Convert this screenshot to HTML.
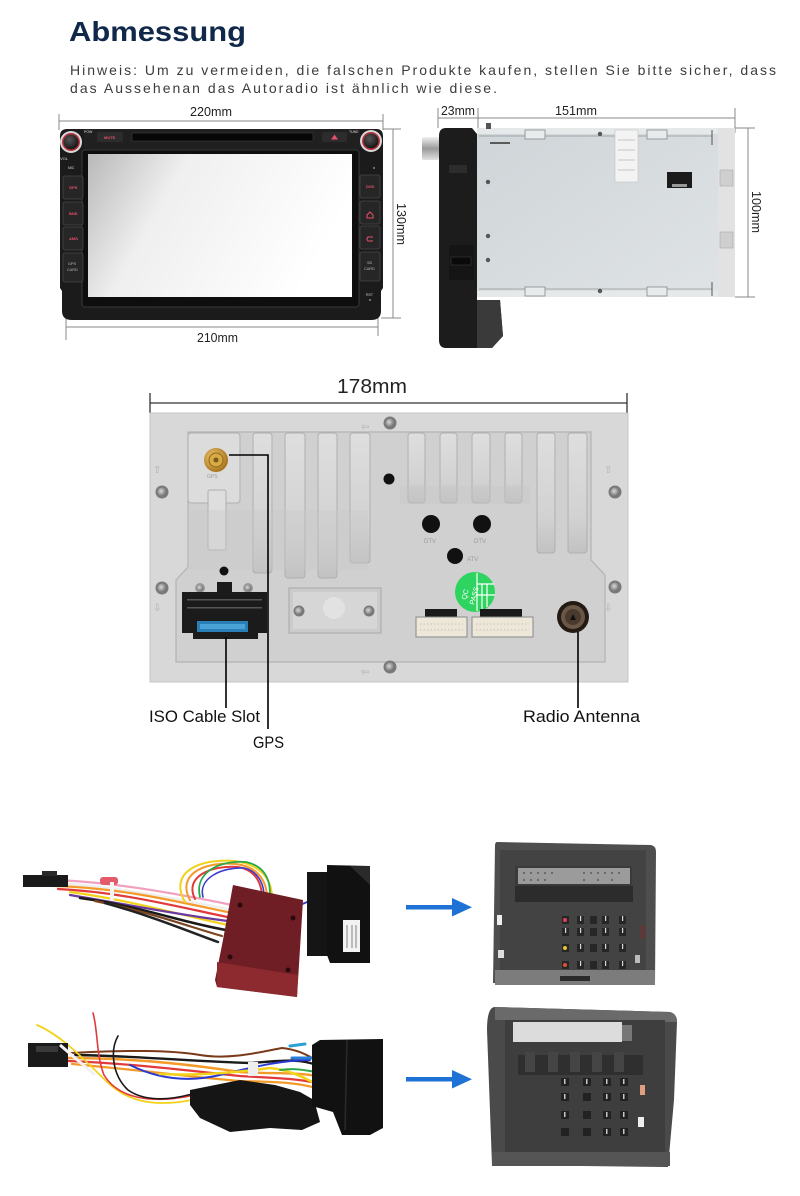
<!DOCTYPE html>
<html><head><meta charset="utf-8"><style>
html,body{margin:0;padding:0;background:#fff;}
svg{display:block;}
</style></head><body>
<svg width="800" height="1196" viewBox="0 0 800 1196" xmlns="http://www.w3.org/2000/svg" font-family="'Liberation Sans', sans-serif">
<defs>
<linearGradient id="scr" x1="0" y1="0" x2="1" y2="0.3">
<stop offset="0" stop-color="#b9b9b9"/><stop offset="0.35" stop-color="#efefef"/><stop offset="1" stop-color="#ffffff"/>
</linearGradient>
<radialGradient id="knob" cx="0.4" cy="0.35" r="0.7">
<stop offset="0" stop-color="#555"/><stop offset="1" stop-color="#111"/>
</radialGradient>
<radialGradient id="scr1" cx="0.4" cy="0.4" r="0.6">
<stop offset="0" stop-color="#d8d8d8"/><stop offset="1" stop-color="#6e6e6e"/>
</radialGradient>
<linearGradient id="slot" x1="0" y1="0" x2="0" y2="1">
<stop offset="0" stop-color="#dedede"/><stop offset="0.7" stop-color="#d2d2d2"/><stop offset="1" stop-color="#c2c2c2"/>
</linearGradient>
<linearGradient id="metal" x1="0" y1="0" x2="1" y2="1">
<stop offset="0" stop-color="#cfd5d8"/><stop offset="1" stop-color="#dfe3e5"/>
</linearGradient>
<linearGradient id="chrome" x1="0" y1="0" x2="0" y2="1">
<stop offset="0" stop-color="#f0f0f0"/><stop offset="0.5" stop-color="#9a9a9a"/><stop offset="1" stop-color="#e0e0e0"/>
</linearGradient>
<radialGradient id="gold" cx="0.4" cy="0.4" r="0.6">
<stop offset="0" stop-color="#f5d27a"/><stop offset="1" stop-color="#a8741c"/>
</radialGradient>
</defs>

<!-- Header -->
<text x="69" y="41" font-size="28" font-weight="bold" fill="#10284a" textLength="177" lengthAdjust="spacingAndGlyphs">Abmessung</text>
<text x="70" y="75" font-size="14" fill="#3c3c3c" textLength="706" lengthAdjust="spacing">Hinweis: Um zu vermeiden, die falschen Produkte kaufen, stellen Sie bitte sicher, dass</text>
<text x="70" y="93" font-size="14" fill="#3c3c3c" textLength="427" lengthAdjust="spacing">das Aussehenan das Autoradio ist ähnlich wie diese.</text>

<!-- ===== Front radio ===== -->
<g stroke="#888" stroke-width="1" fill="none">
<line x1="59" y1="121" x2="383" y2="121"/>
<line x1="59" y1="114" x2="59" y2="130"/>
<line x1="383" y1="114" x2="383" y2="130"/>
<line x1="393" y1="129" x2="393" y2="318"/>
<line x1="383" y1="129" x2="401" y2="129"/>
<line x1="381" y1="318" x2="401" y2="318"/>
<line x1="66" y1="327" x2="378" y2="327"/>
<line x1="66" y1="314" x2="66" y2="340"/>
<line x1="378" y1="314" x2="378" y2="336"/>
</g>
<text x="190" y="116" font-size="13" fill="#222" textLength="42" lengthAdjust="spacingAndGlyphs">220mm</text>
<text x="197" y="342" font-size="13" fill="#222" textLength="41" lengthAdjust="spacingAndGlyphs">210mm</text>
<text transform="translate(397,203) rotate(90)" font-size="13" fill="#222" textLength="42" lengthAdjust="spacingAndGlyphs">130mm</text>

<path d="M60,136 Q60,129 67,129 L376,129 Q383,129 383,136 L383,288 L381,291 L381,311 Q381,320 371,320 L72,320 Q62,320 62,311 L62,291 L60,288 Z" fill="#1b1b1b"/>
<rect x="84" y="129" width="276" height="20" fill="#202020"/>
<rect x="82" y="150" width="277" height="157" rx="3" fill="#0e0e0e" stroke="#383838" stroke-width="1"/>
<rect x="88" y="154" width="264" height="143" fill="url(#scr)"/>
<rect x="132" y="133" width="181" height="8" fill="#070707" stroke="#333" stroke-width="0.8"/>
<rect x="97" y="132" width="26" height="10" rx="2" fill="#2c2c2c"/>
<text x="104" y="139" font-size="4" fill="#e8506a" font-weight="bold">MUTE</text>
<rect x="322" y="132" width="25" height="10" rx="2" fill="#2c2c2c"/>
<polygon points="331,139.5 334.5,134.5 338,139.5" fill="#e8506a"/>
<text x="84" y="133" font-size="3.5" fill="#ddd">POW</text>
<text x="349" y="133" font-size="3.5" fill="#ddd">TUNE</text>
<text x="60" y="160" font-size="4" fill="#ddd">VOL</text>
<text x="68" y="169" font-size="3.5" fill="#ddd">MIC</text>
<!-- knobs -->
<circle cx="71" cy="142" r="11" fill="#d8d8d8"/>
<circle cx="71" cy="142" r="9" fill="#b8333f"/>
<circle cx="71" cy="142" r="7.5" fill="url(#knob)"/>
<circle cx="371" cy="141" r="11" fill="#d8d8d8"/>
<circle cx="371" cy="141" r="9" fill="#b8333f"/>
<circle cx="371" cy="141" r="7.5" fill="url(#knob)"/>
<!-- side buttons -->
<g fill="#262626" stroke="#474747" stroke-width="0.8">
<rect x="63" y="176" width="20" height="23" rx="2"/>
<rect x="63" y="202" width="20" height="23" rx="2"/>
<rect x="63" y="227" width="20" height="23" rx="2"/>
<rect x="63" y="253" width="20" height="29" rx="2"/>
<rect x="360" y="175" width="20" height="23" rx="2"/>
<rect x="360" y="201" width="20" height="23" rx="2"/>
<rect x="360" y="226" width="20" height="23" rx="2"/>
<rect x="360" y="252" width="20" height="29" rx="2"/>
</g>
<g font-size="4" font-weight="bold" fill="#e8506a">
<text x="69" y="189">GPS</text><text x="69" y="215">BND</text><text x="69" y="240">AMS</text>
<text x="366" y="188">DVD</text>
</g>
<text x="68" y="265" font-size="3.8" fill="#bbb">GPS</text>
<text x="67" y="271" font-size="3.8" fill="#bbb">CARD</text>
<text x="367" y="264" font-size="3.8" fill="#bbb">SD</text>
<text x="364" y="270" font-size="3.8" fill="#bbb">CARD</text>
<path d="M367,215 L370,212 L373,215 L373,218 L367,218 Z" fill="none" stroke="#e8506a" stroke-width="1"/>
<path d="M373,237 L368,237 Q366,239 368,241 L373,241" fill="none" stroke="#e8506a" stroke-width="1"/>
<text x="366" y="296" font-size="3.5" fill="#ccc">RST</text>
<circle cx="370" cy="300" r="1" fill="#888"/>
<circle cx="374" cy="168" r="1" fill="#888"/>

<!-- ===== Side radio ===== -->
<g stroke="#888" stroke-width="1" fill="none">
<line x1="438" y1="118" x2="735" y2="118"/>
<line x1="438" y1="108" x2="438" y2="128"/>
<line x1="478" y1="108" x2="478" y2="130"/>
<line x1="735" y1="108" x2="735" y2="133"/>
<line x1="748" y1="128" x2="748" y2="297"/>
<line x1="735" y1="128" x2="755" y2="128"/>
<line x1="735" y1="297" x2="755" y2="297"/>
</g>
<text x="441" y="115" font-size="13" fill="#222" textLength="34" lengthAdjust="spacingAndGlyphs">23mm</text>
<text x="555" y="115" font-size="13" fill="#222" textLength="42" lengthAdjust="spacingAndGlyphs">151mm</text>
<text transform="translate(752,191) rotate(90)" font-size="13" fill="#222" textLength="42" lengthAdjust="spacingAndGlyphs">100mm</text>

<!-- metal box -->
<rect x="477" y="128" width="241" height="169" fill="url(#metal)"/>
<rect x="477" y="128" width="241" height="6" fill="#e6e9ea"/>
<rect x="477" y="291" width="241" height="6" fill="#e6e9ea"/>
<line x1="479" y1="136" x2="712" y2="136" stroke="#8f9699" stroke-width="0.8"/>
<line x1="479" y1="289" x2="712" y2="289" stroke="#8f9699" stroke-width="0.8"/>
<line x1="712" y1="130" x2="712" y2="145" stroke="#555" stroke-width="1"/>
<line x1="712" y1="282" x2="712" y2="296" stroke="#555" stroke-width="1"/>
<line x1="490" y1="143" x2="510" y2="143" stroke="#333" stroke-width="1.5"/>
<g fill="#e8ebec" stroke="#888" stroke-width="0.8">
<rect x="525" y="130" width="20" height="9"/><rect x="647" y="130" width="20" height="9"/>
<rect x="525" y="287" width="20" height="9"/><rect x="647" y="287" width="20" height="9"/>
</g>
<g fill="#555">
<circle cx="600" cy="134" r="2.2"/><circle cx="488" cy="182" r="2.2"/><circle cx="488" cy="236" r="2.2"/><circle cx="488" cy="260" r="2.2"/><circle cx="600" cy="291" r="2.2"/>
</g>
<rect x="615" y="130" width="23" height="52" fill="#f3f3f3" stroke="#bbb" stroke-width="0.5"/>
<g stroke="#999" stroke-width="0.6"><line x1="618" y1="140" x2="635" y2="140"/><line x1="618" y1="150" x2="635" y2="150"/><line x1="618" y1="160" x2="635" y2="160"/><line x1="618" y1="170" x2="635" y2="170"/></g>
<rect x="667" y="172" width="25" height="16" fill="#1b1b1b"/>
<rect x="672" y="184" width="15" height="3" fill="#999"/>
<!-- end plate -->
<rect x="718" y="128" width="17" height="169" fill="#e2e2e2"/>
<rect x="720" y="170" width="13" height="16" fill="#cfcfcf" stroke="#aaa" stroke-width="0.6"/>
<rect x="720" y="232" width="13" height="16" fill="#cfcfcf" stroke="#aaa" stroke-width="0.6"/>
<!-- bezel -->
<path d="M446,128 L472,128 L477,134 L477,300 L500,300 L503,336 L492,348 L446,348 Q439,348 439,340 L439,136 Q439,128 446,128 Z" fill="#1c1c1c"/>
<path d="M477,300 L500,300 L503,336 L492,348 L477,348 Z" fill="#3a3a3a"/>
<rect x="449" y="165" width="18" height="8" fill="#2c2c2c"/>
<rect x="449" y="245" width="25" height="35" fill="#151515"/>
<rect x="451" y="257" width="20" height="8" fill="#0a0a0a" stroke="#444" stroke-width="0.5"/>
<rect x="422" y="137" width="17" height="23" rx="2" fill="url(#chrome)"/>
<rect x="486" y="123" width="5" height="6" fill="#555"/>

<!-- ===== Back panel ===== -->
<text x="337" y="393" font-size="20" fill="#222" textLength="70" lengthAdjust="spacingAndGlyphs">178mm</text>
<g stroke="#333" stroke-width="1.3">
<line x1="150" y1="403" x2="627" y2="403"/>
<line x1="150" y1="393" x2="150" y2="413"/>
<line x1="627" y1="393" x2="627" y2="413"/>
</g>
<rect x="150" y="413" width="478" height="269" fill="#d8d8d8"/>
<rect x="150" y="413" width="478" height="269" fill="none" stroke="#c4c4c4" stroke-width="1"/>
<!-- recess -->
<path d="M188,432 L591,432 L591,560 L605,575 L605,662 L176,662 L176,580 L188,567 Z" fill="#d0d0d0" stroke="#b3b3b3" stroke-width="1.2"/>
<!-- slots -->
<g fill="url(#slot)" stroke="#afafaf" stroke-width="1">
<rect x="188" y="433" width="52" height="70" rx="3" fill="#dcdcdc"/>
<rect x="253" y="433" width="19" height="140" rx="3"/>
<rect x="285" y="433" width="20" height="145" rx="3"/>
<rect x="318" y="433" width="19" height="145" rx="3"/>
<rect x="350" y="433" width="20" height="130" rx="3"/>
<rect x="408" y="433" width="17" height="70" rx="3"/>
<rect x="440" y="433" width="17" height="70" rx="3"/>
<rect x="472" y="433" width="18" height="70" rx="3"/>
<rect x="505" y="433" width="17" height="70" rx="3"/>
<rect x="537" y="433" width="18" height="120" rx="3"/>
<rect x="568" y="433" width="19" height="120" rx="3"/>
<rect x="208" y="490" width="18" height="60" rx="2" fill="#dedede"/>
</g>
<rect x="188" y="510" width="180" height="60" fill="#c8c8c8" opacity="0.35"/>
<rect x="400" y="486" width="130" height="18" fill="#c6c6c6" opacity="0.4"/>
<!-- screws -->
<g>
<circle cx="390" cy="423" r="6.5" fill="#7a7a7a"/><circle cx="390" cy="423" r="4.5" fill="url(#scr1)"/>
<circle cx="162" cy="492" r="6.5" fill="#7a7a7a"/><circle cx="162" cy="492" r="4.5" fill="url(#scr1)"/>
<circle cx="615" cy="492" r="6.5" fill="#7a7a7a"/><circle cx="615" cy="492" r="4.5" fill="url(#scr1)"/>
<circle cx="162" cy="588" r="6.5" fill="#7a7a7a"/><circle cx="162" cy="588" r="4.5" fill="url(#scr1)"/>
<circle cx="615" cy="587" r="6.5" fill="#7a7a7a"/><circle cx="615" cy="587" r="4.5" fill="url(#scr1)"/>
<circle cx="390" cy="667" r="6.5" fill="#7a7a7a"/><circle cx="390" cy="667" r="4.5" fill="url(#scr1)"/>
</g>
<g fill="#b0b0b0" font-size="10">
<text x="361" y="430">⇦</text><text x="153" y="473">⇧</text><text x="604" y="473">⇧</text>
<text x="153" y="611">⇩</text><text x="604" y="611">⇩</text><text x="361" y="675">⇦</text>
</g>
<!-- holes -->
<g fill="#111">
<circle cx="389" cy="479" r="5.5"/>
<circle cx="431" cy="524" r="9"/>
<circle cx="482" cy="524" r="9"/>
<circle cx="455" cy="556" r="8"/>
<circle cx="224" cy="571" r="4.5"/>
</g>
<g font-size="6" fill="#9a9a9a">
<text x="424" y="543">DTV</text><text x="474" y="543">DTV</text><text x="467" y="561">ATV</text>
<text x="207" y="478" font-size="5">GPS</text>
</g>
<!-- GPS connector -->
<circle cx="216" cy="460" r="12" fill="url(#gold)"/>
<circle cx="216" cy="460" r="7" fill="#d9a945" stroke="#8d6418" stroke-width="1"/>
<circle cx="216" cy="460" r="2.5" fill="#7a5a1a"/>
<!-- ISO connector -->
<circle cx="200" cy="588" r="5" fill="#9a9a9a"/><circle cx="200" cy="588" r="3.5" fill="url(#scr1)"/>
<circle cx="248" cy="588" r="5" fill="#9a9a9a"/><circle cx="248" cy="588" r="3.5" fill="url(#scr1)"/>
<rect x="217" y="582" width="15" height="10" fill="#1b1b1b"/>
<rect x="182" y="592" width="85" height="41" fill="#1b1b1b"/>
<rect x="193" y="630" width="65" height="9" fill="#1b1b1b"/>
<g fill="#555">
<rect x="187" y="599" width="75" height="1.5"/><rect x="187" y="607" width="75" height="1.5"/>
</g>
<rect x="197" y="621" width="51" height="11" fill="#2a7fb8"/>
<rect x="200" y="624" width="45" height="5" fill="#4aa3d6"/>
<!-- plate -->
<rect x="289" y="588" width="92" height="45" fill="#cbcbcb" stroke="#a8a8a8" stroke-width="1"/>
<rect x="293" y="592" width="84" height="37" fill="#d6d6d6"/>
<circle cx="334" cy="608" r="11" fill="#e2e2e2"/>
<circle cx="299" cy="611" r="5.5" fill="#7a7a7a"/><circle cx="299" cy="611" r="4" fill="url(#scr1)"/>
<circle cx="369" cy="611" r="5.5" fill="#7a7a7a"/><circle cx="369" cy="611" r="4" fill="url(#scr1)"/>
<!-- QC PASS -->
<circle cx="475" cy="592" r="20" fill="#2fd35f"/>
<g stroke="#fff" stroke-width="1.2"><line x1="477" y1="573" x2="477" y2="611"/><line x1="477" y1="584" x2="494" y2="584"/><line x1="477" y1="595" x2="495" y2="595"/><line x1="482" y1="584" x2="482" y2="610"/><line x1="487" y1="584" x2="487" y2="607"/></g>
<text transform="translate(466,600) rotate(-75)" font-size="7" fill="#fff">QC</text>
<text transform="translate(474,605) rotate(-75)" font-size="7" fill="#fff">PASS</text>
<!-- white connectors -->
<rect x="425" y="609" width="32" height="9" fill="#1a1a1a"/>
<rect x="416" y="617" width="51" height="20" fill="#ece7d9" stroke="#8a8a8a" stroke-width="1"/>
<rect x="480" y="609" width="42" height="9" fill="#1a1a1a"/>
<rect x="472" y="617" width="61" height="20" fill="#ece7d9" stroke="#8a8a8a" stroke-width="1"/>
<g stroke="#bdb6a3" stroke-width="0.8" stroke-dasharray="1.5 2"><line x1="420" y1="624" x2="463" y2="624"/><line x1="420" y1="630" x2="463" y2="630"/><line x1="476" y1="624" x2="529" y2="624"/><line x1="476" y1="630" x2="529" y2="630"/></g>
<!-- antenna -->
<circle cx="573" cy="617" r="16" fill="#231a14"/>
<circle cx="573" cy="617" r="12" fill="#6b5746"/>
<circle cx="573" cy="617" r="8" fill="#4a3a2e"/>
<polygon points="570,620 573,614 576,620" fill="#111"/>
<!-- callout lines -->
<g stroke="#000" stroke-width="1.6" fill="none">
<polyline points="229,455 268,455 268,729"/>
<line x1="226" y1="637" x2="226" y2="708"/>
<line x1="578" y1="632" x2="578" y2="708"/>
</g>
<text x="149" y="722" font-size="17" fill="#111" textLength="111" lengthAdjust="spacingAndGlyphs">ISO Cable Slot</text>
<text x="253" y="748" font-size="17" fill="#111" textLength="31" lengthAdjust="spacingAndGlyphs">GPS</text>
<text x="523" y="722" font-size="17" fill="#111" textLength="117" lengthAdjust="spacingAndGlyphs">Radio Antenna</text>

<!-- ===== Harness 1 ===== -->
<g fill="none" stroke-linecap="round">
<path d="M55,880 C110,882 170,892 232,905" stroke="#f2a0c0" stroke-width="2.2"/>
<path d="M55,883 C110,886 170,897 232,910" stroke="#eeeeee" stroke-width="2.2"/>
<path d="M55,886 C120,888 170,900 232,913" stroke="#f39a2a" stroke-width="2.2"/>
<path d="M58,889 C120,892 170,905 232,918" stroke="#e23a3a" stroke-width="2.2"/>
<path d="M70,892 C130,900 180,915 228,925" stroke="#f2d21a" stroke-width="2.2"/>
<path d="M70,895 C130,905 180,915 228,921" stroke="#6a3aa0" stroke-width="2.2"/>
<path d="M80,898 C140,906 180,922 226,930" stroke="#1a1a1a" stroke-width="2.5"/>
<path d="M95,901 C150,912 190,927 222,936" stroke="#7a4520" stroke-width="2.2"/>
<path d="M105,903 C155,917 190,932 218,942" stroke="#222" stroke-width="2.5"/>
<path d="M185,902 C168,872 200,858 235,861 C262,865 272,880 272,898" stroke="#f2d21a" stroke-width="2"/>
<path d="M190,900 C176,874 205,861 236,864 C259,867 267,882 267,898" stroke="#f39a2a" stroke-width="2"/>
<path d="M195,899 C184,877 210,865 238,867 C256,870 262,884 262,898" stroke="#e23a3a" stroke-width="2"/>
<path d="M200,897 C194,872 220,860 246,862 C264,866 270,879 270,894" stroke="#2aa84a" stroke-width="1.8"/>
<path d="M203,897 C198,878 222,867 244,868 C258,871 264,884 264,896" stroke="#3a3ad0" stroke-width="1.6"/>
<path d="M300,905 L312,900" stroke="#3a3ad0" stroke-width="2"/>
</g>
<rect x="23" y="875" width="45" height="12" fill="#1a1a1a"/>
<rect x="42" y="871" width="15" height="5" fill="#2a2a2a"/>
<rect x="100" y="877" width="18" height="8" rx="3" fill="#e35a6a"/>
<rect x="110" y="882" width="4" height="18" fill="#f5f5f5"/>
<!-- red box -->
<polygon points="233,885 303,900 297,997 217,987 215,980 223,940" fill="#6e1e24"/>
<polygon points="217,962 298,975 297,997 217,987" fill="#8c2a30"/>
<g fill="#2a0a0c"><circle cx="240" cy="905" r="2.5"/><circle cx="293" cy="918" r="2.5"/><circle cx="230" cy="957" r="2.5"/><circle cx="288" cy="970" r="2.5"/></g>
<!-- black connector 1 -->
<rect x="307" y="872" width="24" height="84" fill="#151515"/>
<polygon points="327,865 370,866 370,963 330,963 327,955" fill="#111"/>
<polygon points="350,866 370,866 370,885" fill="#2a2a2a"/>
<rect x="343" y="920" width="17" height="32" fill="#f2f2f2"/>
<g stroke="#555" stroke-width="0.7"><line x1="347" y1="925" x2="347" y2="948"/><line x1="352" y1="925" x2="352" y2="948"/><line x1="356" y1="925" x2="356" y2="948"/></g>

<!-- ===== Harness 2 ===== -->
<g fill="none" stroke-linecap="round">
<path d="M70,1053 C130,1050 170,1050 200,1055 C230,1060 260,1052 282,1048 C300,1050 308,1056 316,1060" stroke="#7a3a1a" stroke-width="2"/>
<path d="M68,1058 C140,1058 200,1066 240,1072 C270,1074 295,1072 316,1076" stroke="#f39a2a" stroke-width="2.4"/>
<path d="M68,1061 C140,1064 200,1072 240,1076 C270,1078 295,1078 316,1083" stroke="#e23a3a" stroke-width="2.2"/>
<path d="M72,1064 C140,1070 200,1078 240,1081 C275,1082 295,1082 316,1088" stroke="#f39a2a" stroke-width="2.2"/>
<path d="M75,1055 C140,1056 200,1062 250,1063 C280,1061 300,1058 316,1065" stroke="#1a1a1a" stroke-width="2.4"/>
<path d="M130,1065 C160,1080 190,1082 220,1075 C250,1068 280,1060 310,1060" stroke="#2a3ad0" stroke-width="2"/>
<path d="M160,1074 C200,1076 240,1072 270,1068 C290,1070 305,1078 316,1084" stroke="#f2d21a" stroke-width="2.6"/>
<path d="M280,1070 C295,1068 305,1070 316,1072" stroke="#2aa84a" stroke-width="2"/>
<path d="M37,1025 C60,1035 80,1055 105,1080 C125,1100 150,1108 192,1100" stroke="#f2d21a" stroke-width="1.8"/>
<path d="M93,1013 C98,1030 96,1055 104,1075 C118,1098 150,1104 190,1096" stroke="#e23a3a" stroke-width="1.6"/>
<path d="M118,1036 C110,1050 112,1075 128,1090 C145,1102 170,1100 192,1094" stroke="#1a1a1a" stroke-width="1.6"/>
<path d="M290,1046 L305,1044" stroke="#2aa0d8" stroke-width="3"/>
<path d="M292,1058 L312,1058" stroke="#2a80d8" stroke-width="3"/>
</g>
<rect x="28" y="1043" width="40" height="24" fill="#1a1a1a"/>
<rect x="36" y="1046" width="22" height="6" fill="#3a3a3a"/>
<path d="M60,1045 L95,1075" stroke="#f2f2f2" stroke-width="3"/>
<rect x="248" y="1062" width="10" height="14" fill="#eee"/>
<path d="M190,1090 L240,1080 L275,1085 L300,1092 L314,1100 L320,1122 L302,1130 L270,1128 L230,1132 L200,1118 L190,1105 Z" fill="#151515"/>
<path d="M312,1045 L320,1040 L383,1039 L383,1128 L370,1135 L342,1135 L333,1112 L312,1106 Z" fill="#111"/>
<line x1="347" y1="1040" x2="345" y2="1130" stroke="#2a2a2a" stroke-width="1.5"/>

<!-- arrows -->
<g fill="#1e72d6">
<rect x="406" y="905" width="48" height="4.5"/>
<polygon points="452,898 472,907.2 452,916.5"/>
<rect x="406" y="1077" width="48" height="4.5"/>
<polygon points="452,1070 472,1079.2 452,1088.5"/>
</g>

<!-- ===== Connector 1 ===== -->
<path d="M497,842 L651,845 Q656,846 656,852 L655,985 L493,983 L495,846 Q495,842 497,842 Z" fill="#4e4e4e"/>
<rect x="500" y="850" width="146" height="120" fill="#434343"/>
<rect x="515" y="866" width="117" height="20" fill="#3a3a3a"/>
<rect x="518" y="868" width="112" height="16" fill="#9b9b9b"/>
<g fill="#6a6a6a">
<rect x="523" y="872" width="2" height="2"/><rect x="530" y="872" width="2" height="2"/><rect x="537" y="872" width="2" height="2"/><rect x="544" y="872" width="2" height="2"/><rect x="551" y="872" width="2" height="2"/>
<rect x="583" y="872" width="2" height="2"/><rect x="590" y="872" width="2" height="2"/><rect x="597" y="872" width="2" height="2"/><rect x="604" y="872" width="2" height="2"/><rect x="611" y="872" width="2" height="2"/><rect x="618" y="872" width="2" height="2"/>
<rect x="523" y="879" width="2" height="2"/><rect x="530" y="879" width="2" height="2"/><rect x="537" y="879" width="2" height="2"/><rect x="544" y="879" width="2" height="2"/><rect x="583" y="879" width="2" height="2"/><rect x="597" y="879" width="2" height="2"/><rect x="611" y="879" width="2" height="2"/>
</g>
<rect x="515" y="886" width="118" height="16" fill="#2c2c2c"/>
<rect x="495" y="970" width="160" height="15" fill="#7c7c7c"/>
<rect x="560" y="976" width="30" height="5" fill="#2a2a2a"/>
<rect x="497" y="915" width="5" height="10" fill="#eee"/>
<rect x="498" y="950" width="6" height="8" fill="#ddd"/>
<rect x="635" y="955" width="5" height="8" fill="#bbb"/>
<rect x="640" y="925" width="6" height="14" fill="#5a3a3a"/>
<g fill="#262626">
<rect x="562" y="916" width="7" height="8"/><rect x="577" y="916" width="7" height="8"/><rect x="590" y="916" width="7" height="8"/><rect x="602" y="916" width="7" height="8"/><rect x="619" y="916" width="7" height="8"/>
<rect x="562" y="928" width="7" height="8"/><rect x="577" y="928" width="7" height="8"/><rect x="590" y="928" width="7" height="8"/><rect x="602" y="928" width="7" height="8"/><rect x="619" y="928" width="7" height="8"/>
<rect x="562" y="944" width="7" height="8"/><rect x="577" y="944" width="7" height="8"/><rect x="590" y="944" width="7" height="8"/><rect x="602" y="944" width="7" height="8"/><rect x="619" y="944" width="7" height="8"/>
<rect x="562" y="961" width="7" height="8"/><rect x="577" y="961" width="7" height="8"/><rect x="590" y="961" width="7" height="8"/><rect x="602" y="961" width="7" height="8"/><rect x="619" y="961" width="7" height="8"/>
</g>
<g fill="#d8d8d8">
<rect x="580" y="916" width="1.2" height="5"/><rect x="605" y="916" width="1.2" height="5"/><rect x="622" y="916" width="1.2" height="5"/>
<rect x="565" y="928" width="1.2" height="5"/><rect x="580" y="928" width="1.2" height="5"/><rect x="605" y="928" width="1.2" height="5"/><rect x="622" y="928" width="1.2" height="5"/>
<rect x="580" y="944" width="1.2" height="5"/><rect x="605" y="944" width="1.2" height="5"/><rect x="622" y="944" width="1.2" height="5"/>
<rect x="580" y="961" width="1.2" height="5"/><rect x="605" y="961" width="1.2" height="5"/><rect x="622" y="961" width="1.2" height="5"/>
</g>
<circle cx="565" cy="920" r="2" fill="#e0405a"/>
<circle cx="565" cy="948" r="2" fill="#e8c030"/>
<circle cx="565" cy="965" r="2" fill="#e05030"/>

<!-- ===== Connector 2 ===== -->
<path d="M495,1007 L670,1012 Q677,1014 677,1022 L674,1100 L668,1167 L492,1165 L487,1030 Q487,1007 495,1007 Z" fill="#4a4a4a"/>
<path d="M495,1007 L670,1012 Q677,1014 677,1022 L495,1020 Z" fill="#6a6a6a"/>
<rect x="505" y="1020" width="160" height="132" fill="#3e3e3e"/>
<rect x="513" y="1022" width="109" height="20" fill="#dcdcdc"/>
<rect x="622" y="1025" width="10" height="16" fill="#777"/>
<rect x="518" y="1055" width="125" height="20" fill="#2f2f2f"/>
<g fill="#454545"><rect x="525" y="1052" width="10" height="20"/><rect x="548" y="1052" width="10" height="20"/><rect x="570" y="1052" width="10" height="20"/><rect x="592" y="1052" width="10" height="20"/><rect x="614" y="1052" width="10" height="20"/></g>
<rect x="492" y="1152" width="178" height="14" fill="#555"/>
<rect x="640" y="1085" width="5" height="10" fill="#e0a080"/>
<rect x="638" y="1117" width="6" height="10" fill="#eee"/>
<g fill="#222">
<rect x="561" y="1078" width="8" height="8"/><rect x="583" y="1078" width="8" height="8"/><rect x="603" y="1078" width="8" height="8"/><rect x="620" y="1078" width="8" height="8"/>
<rect x="561" y="1093" width="8" height="8"/><rect x="583" y="1093" width="8" height="8"/><rect x="603" y="1093" width="8" height="8"/><rect x="620" y="1093" width="8" height="8"/>
<rect x="561" y="1111" width="8" height="8"/><rect x="583" y="1111" width="8" height="8"/><rect x="603" y="1111" width="8" height="8"/><rect x="620" y="1111" width="8" height="8"/>
<rect x="561" y="1128" width="8" height="8"/><rect x="583" y="1128" width="8" height="8"/><rect x="603" y="1128" width="8" height="8"/><rect x="620" y="1128" width="8" height="8"/>
</g>
<g fill="#c8c8c8">
<rect x="564" y="1079" width="1.5" height="5"/><rect x="586" y="1079" width="1.5" height="5"/><rect x="606" y="1079" width="1.5" height="5"/><rect x="623" y="1079" width="1.5" height="5"/>
<rect x="564" y="1094" width="1.5" height="5"/><rect x="606" y="1094" width="1.5" height="5"/><rect x="623" y="1094" width="1.5" height="5"/>
<rect x="564" y="1112" width="1.5" height="5"/><rect x="606" y="1112" width="1.5" height="5"/><rect x="623" y="1112" width="1.5" height="5"/>
<rect x="606" y="1129" width="1.5" height="5"/><rect x="623" y="1129" width="1.5" height="5"/>
</g>
</svg>
</body></html>
